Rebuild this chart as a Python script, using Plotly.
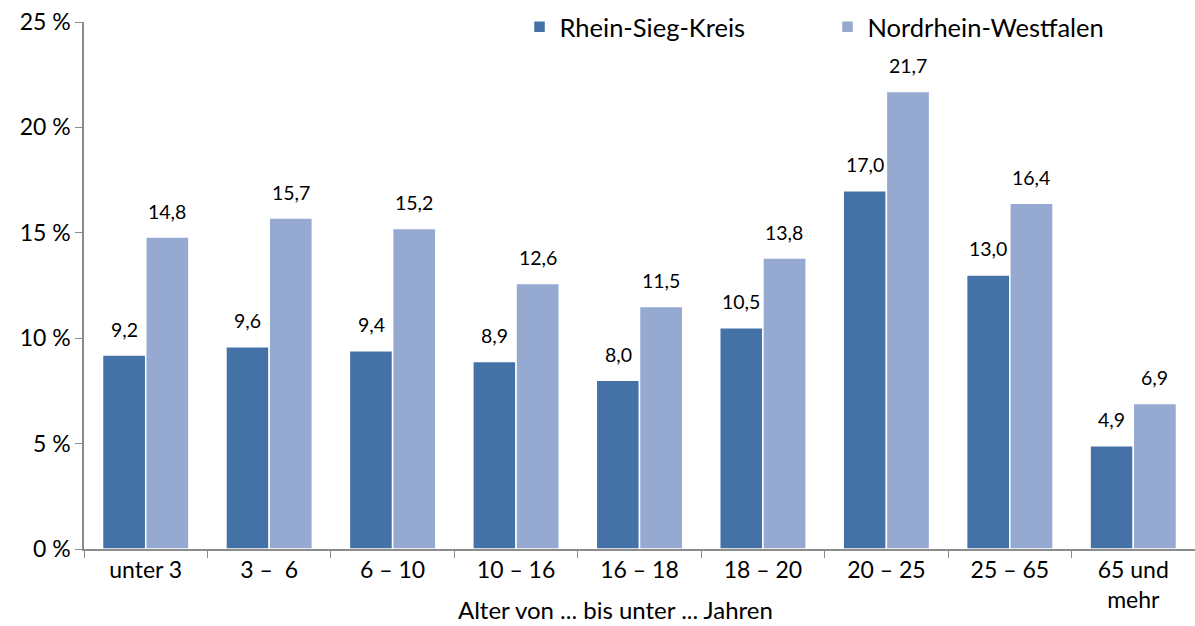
import plotly.graph_objects as go

categories = ["unter 3", "3 –  6", "6 – 10", "10 – 16", "16 – 18", "18 – 20", "20 – 25", "25 – 65", "65 und<br>mehr"]
rsk_values = [9.2, 9.6, 9.4, 8.9, 8.0, 10.5, 17.0, 13.0, 4.9]
nrw_values = [14.8, 15.7, 15.2, 12.6, 11.5, 13.8, 21.7, 16.4, 6.9]
series_names = ["Rhein-Sieg-Kreis", "Nordrhein-Westfalen"]
series_colors = ["#4472A7", "#95A9D1"]
y_ticks = [0, 5, 10, 15, 20, 25]
y_tick_labels = ["0 %", "5 %", "10 %", "15 %", "20 %", "25 %"]
x_title = "Alter von ... bis unter ... Jahren"

FONT = "Lato"
BAR_HALF_PX = 21.5

def fmt(v):
    return f"{v:.1f}".replace(".", ",")

fig = go.Figure()
for name, vals, color in zip(series_names, [rsk_values, nrw_values], series_colors):
    fig.add_trace(go.Bar(
        name=name, x=categories, y=vals,
        marker=dict(color=color, line=dict(color="white", width=1.5)),
        cliponaxis=False,
    ))

annotations = []
for vals, sign in [(rsk_values, -1), (nrw_values, 1)]:
    for c, v in zip(categories, vals):
        annotations.append(dict(
            x=c, y=v, xref="x", yref="y", text=fmt(v), showarrow=False,
            xshift=sign * BAR_HALF_PX, yshift=26, yanchor="middle",
            font=dict(family=FONT, size=19.5, color="black"),
        ))
annotations.append(dict(
    x=0.478, y=-0.115, xref="paper", yref="paper", text=x_title, showarrow=False,
    xanchor="center", yanchor="middle", font=dict(family=FONT, size=24, color="black"),
))

fig.update_layout(
    width=1195, height=626,
    margin=dict(l=84, r=0, t=22, b=77),
    plot_bgcolor="white", paper_bgcolor="white",
    barmode="group", bargap=0.30, bargroupgap=0.0,
    font=dict(family=FONT, size=22, color="black"),
    showlegend=True,
    legend=dict(orientation="h", x=0.392, y=0.99, xanchor="left", yanchor="middle",
                font=dict(family=FONT, size=25.5, color="black"),
                entrywidth=263, itemwidth=30, bgcolor="rgba(0,0,0,0)"),
    annotations=annotations,
    xaxis=dict(
        automargin=False,
        showline=True, linecolor="#8c8c8c", linewidth=1.5,
        ticks="outside", tickson="boundaries", ticklen=7, tickcolor="#8c8c8c",
        tickfont=dict(family=FONT, size=23),
    ),
    yaxis=dict(
        automargin=False,
        range=[0, 25], tickvals=y_ticks, ticktext=y_tick_labels,
        showline=True, linecolor="#8c8c8c", linewidth=1.5,
        ticks="outside", ticklen=7, tickcolor="#8c8c8c",
        showgrid=False, zeroline=False,
        tickfont=dict(family=FONT, size=23),
    ),
)

fig.write_html("out.html", config={"displayModeBar": False},
               post_script="document.body.style.margin='0';document.body.style.overflow='hidden';")
